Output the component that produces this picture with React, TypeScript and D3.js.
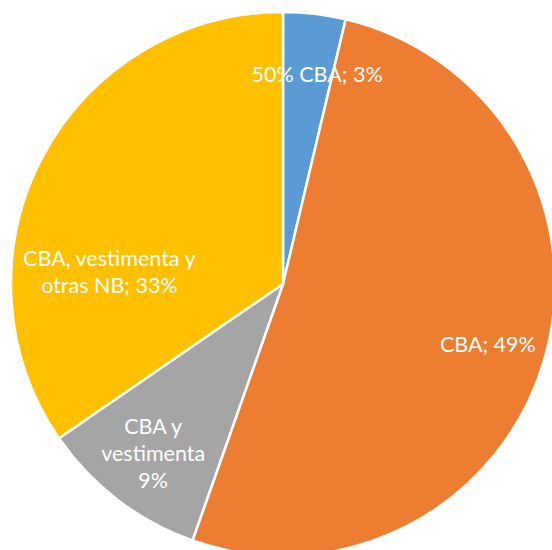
import React, { useEffect, useRef } from "react";
import * as d3 from "d3";

const categories = ["50% CBA", "CBA", "CBA y vestimenta", "CBA, vestimenta y otras NB"];
const shares = [3.7, 51.7, 10.0, 34.6];
const labelLines = [
  ["50% CBA; 3%"],
  ["CBA; 49%"],
  ["CBA y", "vestimenta", "9%"],
  ["CBA, vestimenta y", "otras NB; 33%"],
];
const colors = ["#5B9BD5", "#ED7D31", "#A5A5A5", "#FFC000"];

const App = () => {
  const ref = useRef<SVGSVGElement>(null);

  useEffect(() => {
    const width = 552;
    const height = 550;
    const cx = 283;
    const cy = 284;
    const radius = 272;

    const svg = d3.select(ref.current);
    svg.selectAll("*").remove();

    const g = svg.append("g").attr("transform", `translate(${cx},${cy})`);

    const data = categories.map((c, i) => ({ name: c, value: shares[i], lines: labelLines[i], color: colors[i] }));

    const pie = d3.pie<any>().sort(null).value((d) => d.value);
    const arcs = pie(data);
    const arc = d3.arc<any>().innerRadius(0).outerRadius(radius);

    g.selectAll("path")
      .data(arcs)
      .enter()
      .append("path")
      .attr("d", arc)
      .attr("fill", (d) => d.data.color)
      .attr("stroke", "#fff")
      .attr("stroke-width", 2.5)
      .attr("stroke-linejoin", "round");

    // label placement: Excel's best fit, roughly 0.78r along the slice middle
    const labelArc = d3.arc<any>().innerRadius(radius * 0.785).outerRadius(radius * 0.785);
    const lineHeight = 27;

    arcs.forEach((a, i) => {
      let [lx, ly] = labelArc.centroid(a);
      if (i === 3) {
        // the big yellow label sits lower, nearly horizontal from the centre
        const ang = a.startAngle + (a.endAngle - a.startAngle) * 0.31;
        lx = Math.sin(ang) * radius * 0.64;
        ly = -Math.cos(ang) * radius * 0.64;
      }
      if (i === 0) {
        const ang = (a.startAngle + a.endAngle) / 2 + 0.045;
        lx = Math.sin(ang) * radius * 0.78;
        ly = -Math.cos(ang) * radius * 0.78;
      }
      const lines = a.data.lines as string[];
      const top = ly - ((lines.length - 1) * lineHeight) / 2;
      const t = g
        .append("text")
        .attr("text-anchor", "middle")
        .attr("fill", "#fff")
        .attr("font-family", "Lato, 'Noto Sans', sans-serif")
        .attr("font-size", 21.5);
      lines.forEach((line, j) => {
        t.append("tspan")
          .attr("x", lx)
          .attr("y", top + j * lineHeight)
          .attr("dy", "0.35em")
          .text(line);
      });
    });

    svg.attr("width", width).attr("height", height);
  }, []);

  return (
    <svg
      ref={ref}
      width={552}
      height={550}
      style={{ position: "absolute", left: 0, top: 0, background: "#fff" }}
    />
  );
};

export default App;
